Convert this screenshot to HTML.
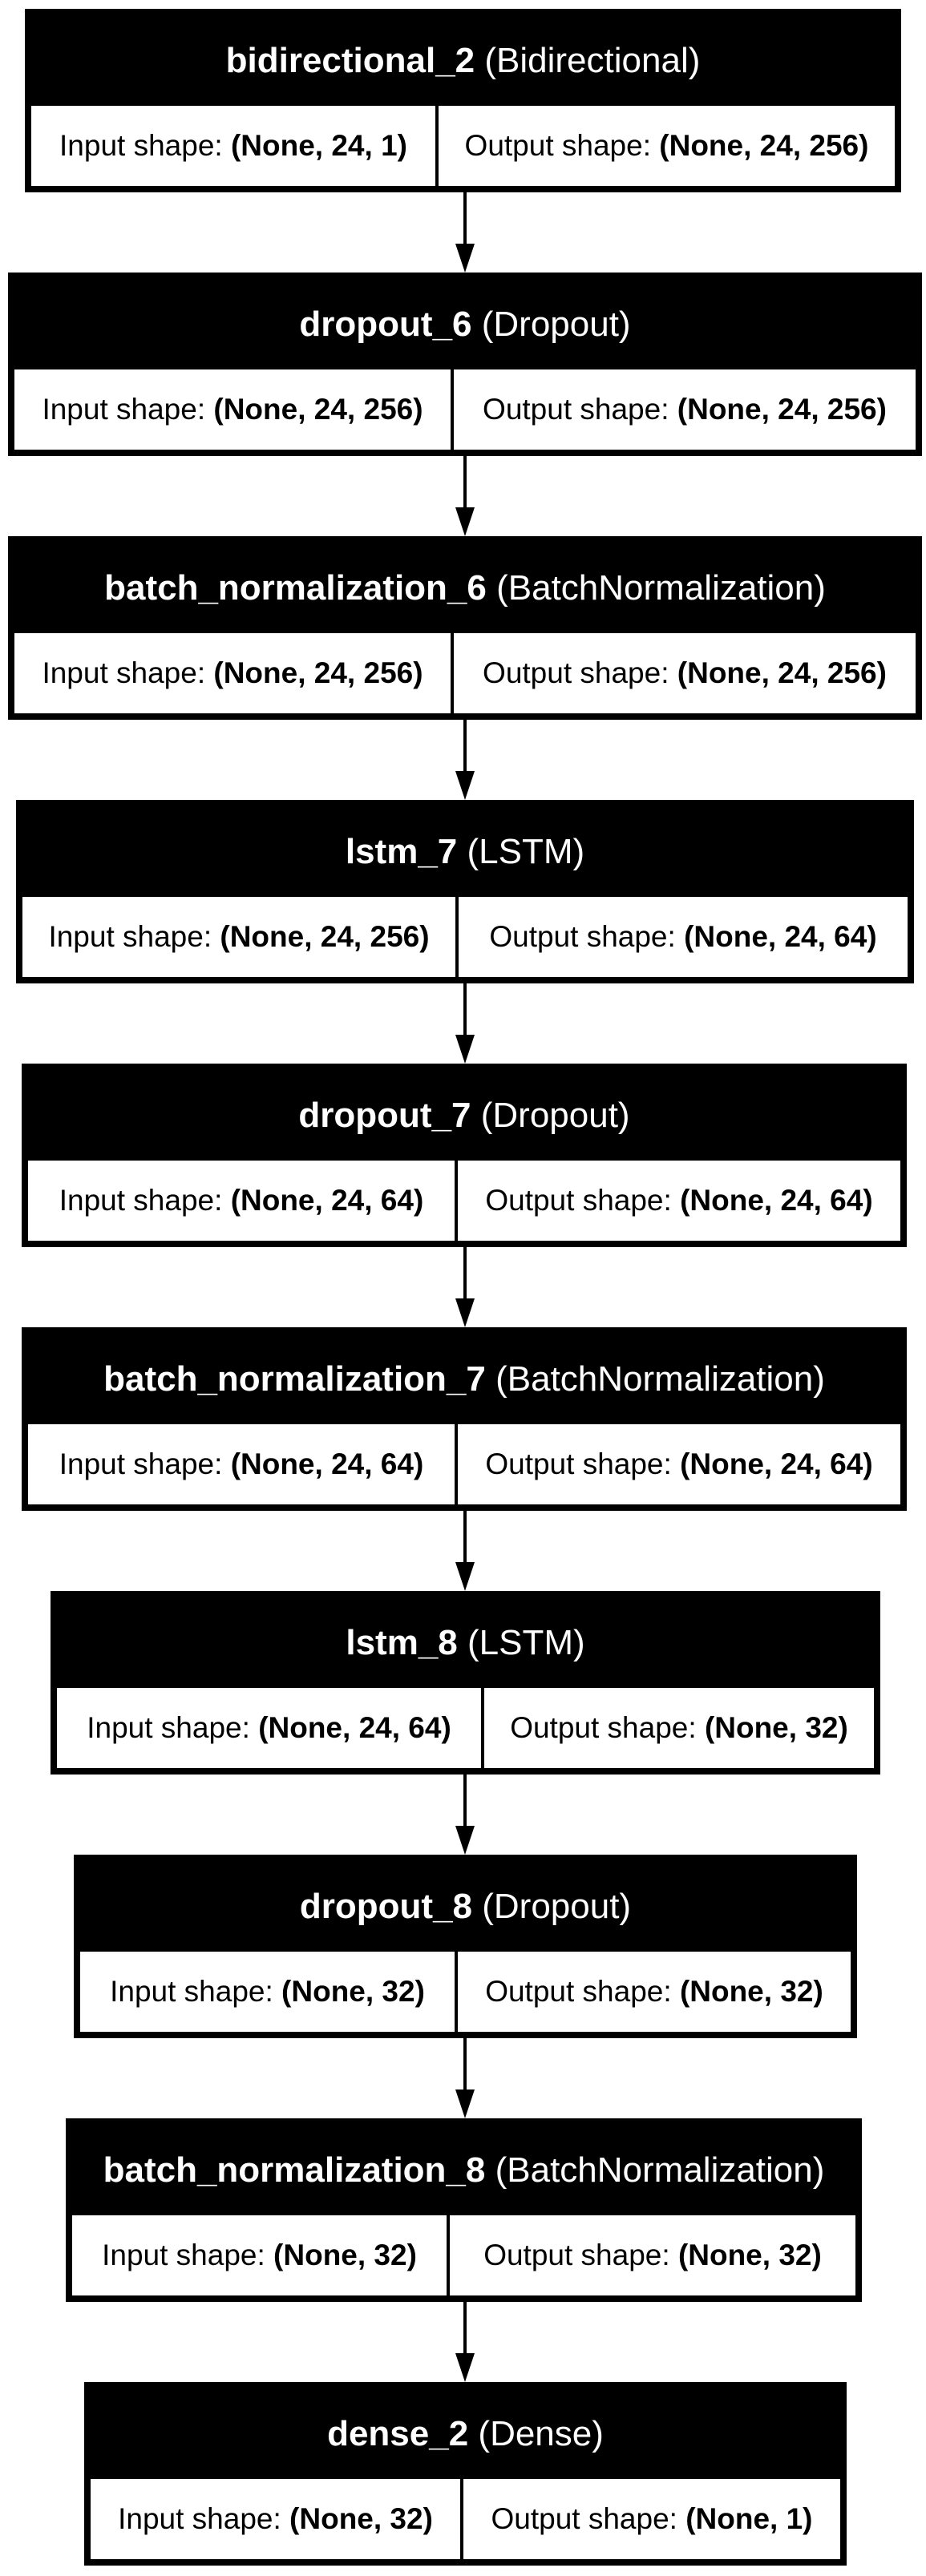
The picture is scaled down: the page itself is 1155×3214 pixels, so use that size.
<!DOCTYPE html>
<html><head><meta charset="utf-8"><style>
html,body{margin:0;padding:0;background:#fff;}
body{width:1155px;height:3214px;position:relative;overflow:hidden;font-family:"Liberation Sans",Arial,sans-serif;}
.b{position:absolute;background:#000;height:229px;}
.t{position:absolute;left:0;right:0;top:0;height:121px;box-sizing:border-box;padding-top:8px;display:flex;align-items:center;justify-content:center;color:#fff;font-size:44px;white-space:nowrap;}
.c{position:absolute;top:121px;height:100px;background:#fff;display:flex;align-items:center;justify-content:center;font-size:37px;white-space:nowrap;color:#000;}
b{font-weight:bold;}
.ln{position:absolute;left:578px;width:4px;background:#000;}
.ah{position:absolute;left:568px;width:0;height:0;border-left:12px solid transparent;border-right:12px solid transparent;border-top:36px solid #000;}
</style></head><body>

<div class="b" style="left:31px;top:11px;width:1093px"><div class="t"><b>bidirectional_2</b>&nbsp;(Bidirectional)</div>
<div class="c" style="left:8px;width:504px">Input shape:&nbsp;<b>(None, 24, 1)</b></div>
<div class="c" style="left:516px;width:569px">Output shape:&nbsp;<b>(None, 24, 256)</b></div></div>

<div class="b" style="left:10px;top:340px;width:1140px"><div class="t"><b>dropout_6</b>&nbsp;(Dropout)</div>
<div class="c" style="left:8px;width:544px">Input shape:&nbsp;<b>(None, 24, 256)</b></div>
<div class="c" style="left:556px;width:576px">Output shape:&nbsp;<b>(None, 24, 256)</b></div></div>

<div class="b" style="left:10px;top:669px;width:1140px"><div class="t"><b>batch_normalization_6</b>&nbsp;(BatchNormalization)</div>
<div class="c" style="left:8px;width:544px">Input shape:&nbsp;<b>(None, 24, 256)</b></div>
<div class="c" style="left:556px;width:576px">Output shape:&nbsp;<b>(None, 24, 256)</b></div></div>

<div class="b" style="left:20px;top:998px;width:1120px"><div class="t"><b>lstm_7</b>&nbsp;(LSTM)</div>
<div class="c" style="left:8px;width:540px">Input shape:&nbsp;<b>(None, 24, 256)</b></div>
<div class="c" style="left:552px;width:560px">Output shape:&nbsp;<b>(None, 24, 64)</b></div></div>

<div class="b" style="left:27px;top:1327px;width:1104px"><div class="t"><b>dropout_7</b>&nbsp;(Dropout)</div>
<div class="c" style="left:8px;width:532px">Input shape:&nbsp;<b>(None, 24, 64)</b></div>
<div class="c" style="left:544px;width:552px">Output shape:&nbsp;<b>(None, 24, 64)</b></div></div>

<div class="b" style="left:27px;top:1656px;width:1104px"><div class="t"><b>batch_normalization_7</b>&nbsp;(BatchNormalization)</div>
<div class="c" style="left:8px;width:532px">Input shape:&nbsp;<b>(None, 24, 64)</b></div>
<div class="c" style="left:544px;width:552px">Output shape:&nbsp;<b>(None, 24, 64)</b></div></div>

<div class="b" style="left:63px;top:1985px;width:1035px"><div class="t"><b>lstm_8</b>&nbsp;(LSTM)</div>
<div class="c" style="left:8px;width:529px">Input shape:&nbsp;<b>(None, 24, 64)</b></div>
<div class="c" style="left:541px;width:486px">Output shape:&nbsp;<b>(None, 32)</b></div></div>

<div class="b" style="left:92px;top:2314px;width:977px"><div class="t"><b>dropout_8</b>&nbsp;(Dropout)</div>
<div class="c" style="left:8px;width:467px">Input shape:&nbsp;<b>(None, 32)</b></div>
<div class="c" style="left:479px;width:490px">Output shape:&nbsp;<b>(None, 32)</b></div></div>

<div class="b" style="left:82px;top:2643px;width:993px"><div class="t"><b>batch_normalization_8</b>&nbsp;(BatchNormalization)</div>
<div class="c" style="left:8px;width:467px">Input shape:&nbsp;<b>(None, 32)</b></div>
<div class="c" style="left:479px;width:506px">Output shape:&nbsp;<b>(None, 32)</b></div></div>

<div class="b" style="left:105px;top:2972px;width:951px"><div class="t"><b>dense_2</b>&nbsp;(Dense)</div>
<div class="c" style="left:8px;width:461px">Input shape:&nbsp;<b>(None, 32)</b></div>
<div class="c" style="left:473px;width:470px">Output shape:&nbsp;<b>(None, 1)</b></div></div>

<div class="ln" style="top:240px;height:64px"></div><div class="ah" style="top:304px"></div>
<div class="ln" style="top:569px;height:64px"></div><div class="ah" style="top:633px"></div>
<div class="ln" style="top:898px;height:64px"></div><div class="ah" style="top:962px"></div>
<div class="ln" style="top:1227px;height:64px"></div><div class="ah" style="top:1291px"></div>
<div class="ln" style="top:1556px;height:64px"></div><div class="ah" style="top:1620px"></div>
<div class="ln" style="top:1885px;height:64px"></div><div class="ah" style="top:1949px"></div>
<div class="ln" style="top:2214px;height:64px"></div><div class="ah" style="top:2278px"></div>
<div class="ln" style="top:2543px;height:64px"></div><div class="ah" style="top:2607px"></div>
<div class="ln" style="top:2872px;height:64px"></div><div class="ah" style="top:2936px"></div>
</body></html>
